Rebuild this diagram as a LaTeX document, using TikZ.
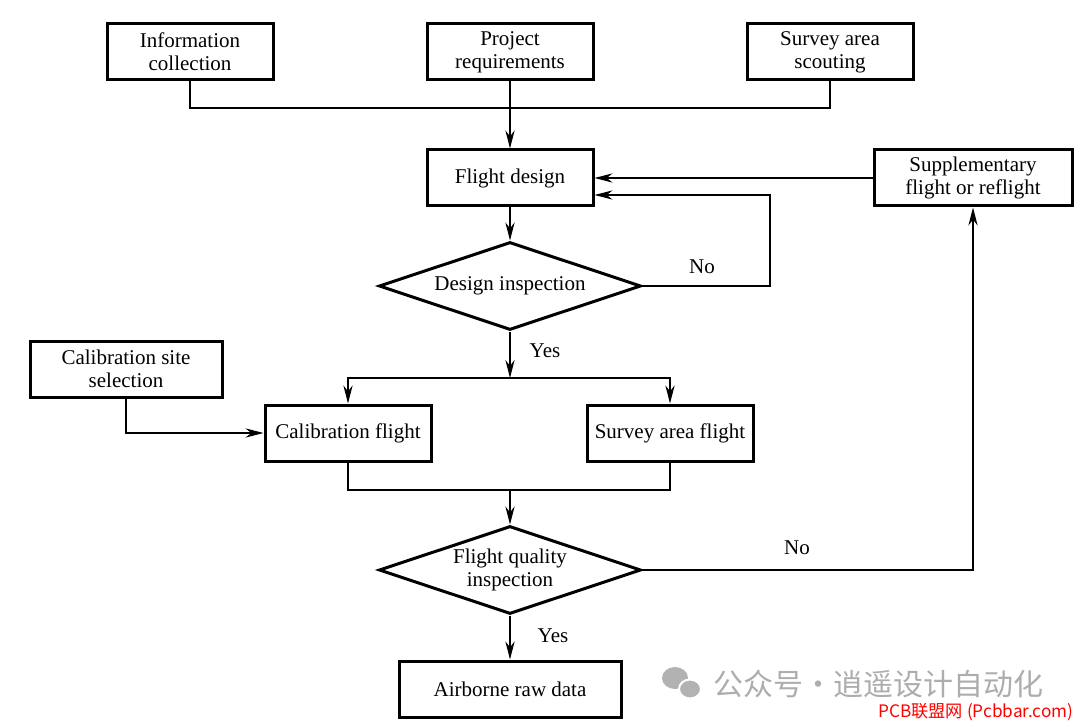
\documentclass[tikz,border=0pt]{standalone}
\usepackage{fontspec}
\setmainfont{Liberation Serif}
\newfontfamily\cjk{Noto Sans CJK SC}
\usetikzlibrary{arrows.meta, positioning, shapes.geometric}

\begin{document}
\begin{tikzpicture}[
    x=0.5pt, y=-0.5pt,
    every node/.style={font=\fontsize{10.5}{11.5}\selectfont},
    box/.style={rectangle, draw, line width=1.5pt, minimum width=83pt, minimum height=28pt, align=center, inner sep=2pt},
    decision/.style={diamond, draw, line width=1.5pt, minimum width=131pt, minimum height=44pt, aspect=3, align=center, inner sep=0pt},
    line/.style={line width=0.8pt},
    arrow/.style={-{Stealth[length=9pt, width=4.6pt]}, line width=0.8pt},
    label/.style={font=\fontsize{10.5}{11.5}\selectfont}
]
\useasboundingbox (0,0) rectangle (1080,727);

% ============ INPUTS (TOP) ============
\node[box] (info) at (190, 52) {Information\\collection};
\node[box] (req) at (510, 52) {Project\\requirements};
\node[box] (scout) at (830, 52) {Survey area\\scouting};

\coordinate (bus) at (510, 108);
\draw[line] (info.south) |- (bus) -| (scout.south);

% ============ DESIGN ============
\node[box] (design) at (510, 178) {Flight design};
\node[box, minimum width=99pt] (supp) at (973, 178) {Supplementary\\flight or reflight};
\node[decision] (insp) at (510, 286) {Design inspection};

\draw[arrow] (req.south) -- (design.north);
\draw[arrow] (supp.west) -- (design.east);
\draw[arrow] (design.south) -- (insp.north);

% No loop back to design
\coordinate (loop) at (770, 195);
\draw[arrow] (insp.east) -| (loop) -- (design.east |- loop);
\node[label] (no1) at (702, 267) {No};

% ============ FLIGHTS ============
\coordinate (split) at (510, 378);
\draw[arrow] (insp.south) -- (split);
\node[label] (yes1) at (545, 351) {Yes};

\node[box, minimum width=96pt] (site) at (126, 369) {Calibration site\\selection};
\node[box] (calib) at (348, 433) {Calibration flight};
\node[box] (survey) at (670, 433) {Survey area flight};

\draw[arrow] (split) -| (calib.north);
\draw[arrow] (split) -| (survey.north);
\draw[arrow] (site.south) |- (calib.west);

% ============ QUALITY CHECK ============
\coordinate (merge) at (510, 490);
\draw[line] (calib.south) |- (merge) -| (survey.south);

\node[decision] (quality) at (510, 570) {Flight quality\\inspection};
\draw[arrow] (merge) -- (quality.north);

\draw[arrow] (quality.east) -| (supp.south);
\node[label] (no2) at (797, 548) {No};

% ============ OUTPUT ============
\node[box, minimum width=111pt] (raw) at (510, 689) {Airborne raw data};
\draw[arrow] (quality.south) -- (raw.north);
\node[label] (yes2) at (553, 636) {Yes};

% ============ WATERMARK ============
\fill[black!30] (675, 678) ellipse (13 and 11);
\fill[black!30, draw=white, line width=1pt] (690, 689) ellipse (11 and 9.5);
\node[anchor=west, text=black!32, font=\cjk\fontsize{15}{16}\selectfont] (mark) at (706, 684) {公众号·逍遥设计自动化};
\node[anchor=west, text=red, font=\cjk\fontsize{8.6}{10}\selectfont, inner sep=0pt] (site2) at (878, 712) {PCB联盟网 (Pcbbar.com)};

\end{tikzpicture}
\end{document}
